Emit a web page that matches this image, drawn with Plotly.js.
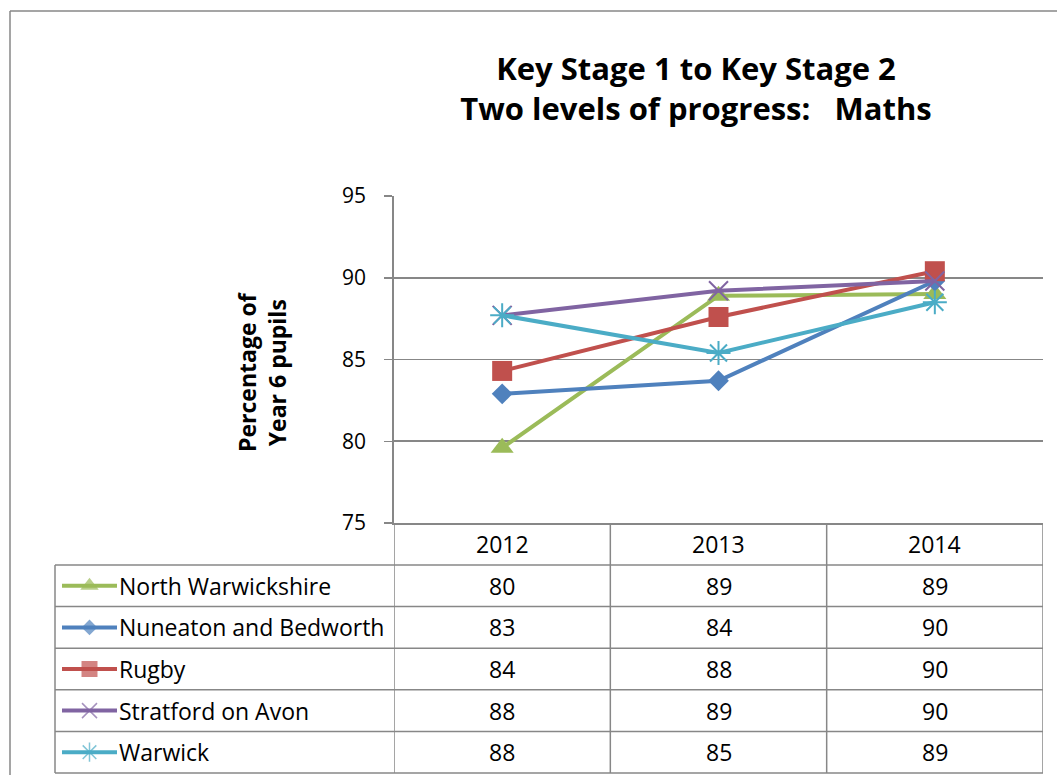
<!DOCTYPE html>
<html>
<head>
<meta charset="utf-8">
<script src="https://cdn.plot.ly/plotly-3.0.1.min.js"></script>
<style>html,body{margin:0;padding:0;background:#fff;}#chart{width:1057px;height:775px;}</style>
</head>
<body>
<div id="chart"></div>
<script>
// ---- data ----
const years = ["2012", "2013", "2014"];
const seriesNames = ["North Warwickshire", "Nuneaton and Bedworth", "Rugby", "Stratford on Avon", "Warwick"];
const northWarwickshire = [79.6, 88.9, 89.0];
const nuneatonBedworth = [82.9, 83.7, 89.8];
const rugby = [84.3, 87.6, 90.4];
const stratfordOnAvon = [87.7, 89.2, 89.8];
const warwick = [87.7, 85.4, 88.5];
const yTicks = [75, 80, 85, 90, 95];

// ---- styles ----
const allValues = [northWarwickshire, nuneatonBedworth, rugby, stratfordOnAvon, warwick];
const colors = ["#9BBB59", "#4F81BD", "#C0504D", "#8064A2", "#4BACC6"];
const symbols = ["triangle-up", "diamond", "square", "x-thin-open", "asterisk-open"];
const sizes = [20, 16, 20, 19, 20];
const W = 1057, H = 775;
const px = x => x / W, py = y => 1 - y / H;
const FONT = "Open Sans, Liberation Sans, sans-serif";
const GRID = "#878787";

// pixel geometry of the chart frame
const plotL = 394, plotR = 1043, plotT = 196, plotB = 523;
const rowTop = 565, rowH = 41.6, tableL = 55;

const xIdx = years.map((_, i) => i);
const traces = allValues.map((vals, i) => ({
  type: "scatter", mode: "lines+markers", name: seriesNames[i],
  x: xIdx, y: vals, xaxis: "x", yaxis: "y",
  line: {color: colors[i], width: 4},
  marker: {symbol: symbols[i], size: sizes[i], color: colors[i], line: {color: colors[i], width: (i >= 3 ? 2 : 0)}},
  showlegend: false, hoverinfo: "skip"
}));
// legend keys inside the data table (line with marker in the middle)
allValues.forEach((_, i) => {
  traces.push({
    type: "scatter", mode: "lines+markers", x: [0, 0.5, 1], y: [i, i, i],
    xaxis: "x2", yaxis: "y2",
    line: {color: colors[i], width: 4},
    marker: {symbol: symbols[i], size: [0, sizes[i] - 4, 0], color: colors[i], line: {color: colors[i], width: (i >= 3 ? 1.5 : 0)}},
    showlegend: false, hoverinfo: "skip"
  });
});

const shapes = [];
const annotations = [];
const lineStyle = {color: GRID, width: 1.5};
// outer chart border (left and top)
shapes.push({type: "line", xref: "paper", yref: "paper", x0: px(10), x1: px(10), y0: py(11), y1: 0, line: lineStyle});
shapes.push({type: "line", xref: "paper", yref: "paper", x0: px(10), x1: 1, y0: py(11), y1: py(11), line: lineStyle});
// table horizontal lines
const tableBottom = rowTop + rowH * seriesNames.length;
for (let r = 0; r <= seriesNames.length; r++) {
  const yy = py(rowTop + r * rowH);
  shapes.push({type: "line", xref: "paper", yref: "paper", x0: px(tableL), x1: px(plotR), y0: yy, y1: yy, line: lineStyle});
}
// table vertical lines at category boundaries
for (let c = 0; c <= years.length; c++) {
  shapes.push({type: "line", xref: "x", yref: "paper", x0: c - 0.5, x1: c - 0.5, y0: py(plotB), y1: py(tableBottom), line: lineStyle});
}
shapes.push({type: "line", xref: "paper", yref: "paper", x0: px(tableL), x1: px(tableL), y0: py(rowTop), y1: py(tableBottom), line: lineStyle});

const cellFont = {family: FONT, size: 23, color: "#000"};
// header years
years.forEach((yr, c) => {
  annotations.push({xref: "x", yref: "paper", x: c, y: py((plotB + rowTop) / 2), text: yr, showarrow: false,
    xanchor: "center", yanchor: "middle", font: cellFont});
});
// rows
seriesNames.forEach((nm, r) => {
  const yc = py(rowTop + (r + 0.5) * rowH);
  annotations.push({xref: "paper", yref: "paper", x: px(117), y: yc, text: nm, showarrow: false,
    xanchor: "left", yanchor: "middle", font: cellFont});
  allValues[r].forEach((v, c) => {
    annotations.push({xref: "x", yref: "paper", x: c, y: yc, text: String(Math.round(v)), showarrow: false,
      xanchor: "center", yanchor: "middle", font: cellFont});
  });
});
// y axis title
annotations.push({xref: "paper", yref: "paper", x: px(262), y: py(372), textangle: -90,
  text: "<b>Percentage of<br>Year 6 pupils</b>", showarrow: false, xanchor: "center", yanchor: "middle",
  font: {family: FONT, size: 23, color: "#000"}});

const layout = {
  width: W, height: H,
  margin: {l: 0, r: 0, t: 0, b: 0},
  paper_bgcolor: "#fff", plot_bgcolor: "#fff",
  showlegend: false,
  title: {
    text: "<b>Key Stage 1 to Key Stage 2<br>Two levels of progress:\u00a0\u00a0\u00a0Maths</b>",
    x: px(696), xanchor: "center", y: py(80), yanchor: "middle",
    font: {family: FONT, size: 31, color: "#000"}
  },
  xaxis: {
    domain: [px(plotL), px(plotR)], range: [-0.5, years.length - 0.5],
    showgrid: false, zeroline: false, showticklabels: false, ticks: "",
    showline: true, linecolor: GRID, linewidth: 1.8, fixedrange: true
  },
  yaxis: {
    domain: [py(plotB), py(plotT)], range: [75, 95],
    tickvals: yTicks, ticktext: yTicks.map(String),
    showgrid: true, gridcolor: GRID, gridwidth: 1.8,
    showline: true, linecolor: GRID, linewidth: 1.8,
    ticks: "outside", ticklen: 8, tickcolor: GRID, tickwidth: 1.5,
    ticklabelstandoff: 14,
    zeroline: false,
    tickfont: {family: FONT, size: 21, color: "#000"},
    fixedrange: true
  },
  xaxis2: {domain: [px(62), px(117)], range: [0, 1], visible: false, fixedrange: true, anchor: "y2"},
  yaxis2: {domain: [py(tableBottom), py(rowTop)], range: [seriesNames.length - 0.5, -0.5], visible: false, fixedrange: true, anchor: "x2"},
  shapes: shapes,
  annotations: annotations
};

Plotly.newPlot("chart", traces, layout, {displayModeBar: false, staticPlot: true});
</script>
</body>
</html>
